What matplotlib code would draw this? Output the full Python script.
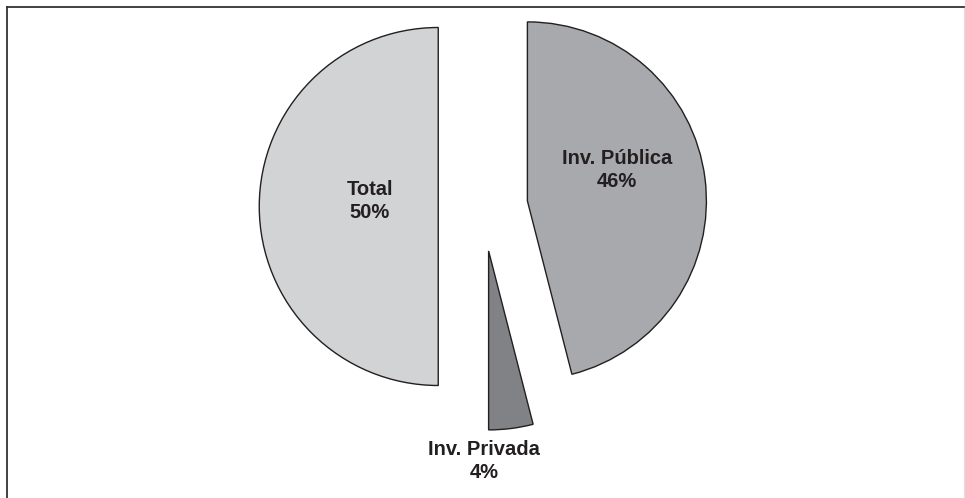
import matplotlib
matplotlib.use("Agg")
import matplotlib.pyplot as plt
from matplotlib.lines import Line2D

labels = ["Inv. Pública", "Inv. Privada", "Total"]
values = [46, 4, 50]
colors = ["#A7A9AC", "#808285", "#D1D3D4"]

W, H = 965, 498
cx, cy, r = 483, 206.5, 179.0

fig = plt.figure(figsize=(W / 100, H / 100), dpi=100)
ax = fig.add_axes([0, 0, 1, 1])

ax.pie(values, colors=colors, startangle=90, counterclock=False,
       explode=[0.25, 0.25, 0.25], radius=1.0,
       wedgeprops=dict(edgecolor="#231F20", linewidth=1.0))
ax.set_aspect("auto")
ax.set_xlim(-cx / r, (W - cx) / r)
ax.set_ylim(-(H - cy) / r, cy / r)
ax.axis("off")

def px(x, y):
    return ((x - cx) / r, (cy - y) / r)

text_pos = {"Total": (370, 201), "Inv. Pública": (617, 170), "Inv. Privada": (484, 461)}
for lab, v in zip(labels, values):
    x, y = px(*text_pos[lab])
    ax.text(x, y, f"{lab}\n{v}%", ha="center", va="center", fontsize=14.5,
            fontweight="bold", family="Liberation Sans", color="#231F20",
            linespacing=1.25)

# figure border
fig.add_artist(Line2D([7 / W, 964 / W], [1 - 7 / H, 1 - 7 / H], transform=fig.transFigure,
                      color="#333333", linewidth=1.3))
fig.add_artist(Line2D([7 / W, 7 / W], [0, 1 - 7 / H], transform=fig.transFigure,
                      color="#333333", linewidth=1.3))
fig.add_artist(Line2D([963.5 / W, 963.5 / W], [0, 1 - 8 / H], transform=fig.transFigure,
                      color="#E0E0E0", linewidth=0.8))

fig.savefig("out.png", dpi=100)
